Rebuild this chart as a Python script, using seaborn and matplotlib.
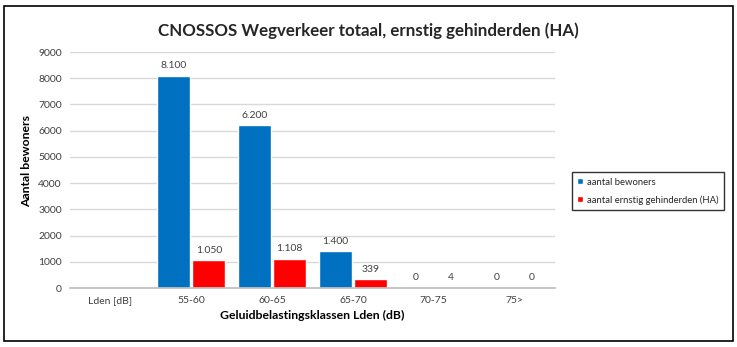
import numpy as np
import pandas as pd
import seaborn as sns
import matplotlib.pyplot as plt
from matplotlib.patches import Rectangle

# Noise exposure classes and counts per class
klassen = ["Lden [dB]", "55-60", "60-65", "65-70", "70-75", "75>"]
bewoners = [np.nan, 8100, 6200, 1400, 0, 0]
gehinderden = [np.nan, 1050, 1108, 339, 4, 0]
series = ["aantal bewoners", "aantal ernstig gehinderden (HA)"]
colors = ["#0070C0", "#FF0000"]

df = pd.DataFrame({
    "klasse": klassen * 2,
    "waarde": bewoners + gehinderden,
    "reeks": [series[0]] * len(klassen) + [series[1]] * len(klassen),
})

sns.set_theme(style="white")
plt.rcParams["font.family"] = ["Lato", "DejaVu Sans"]

fig = plt.figure(figsize=(7.37, 3.47), dpi=100)
ax = fig.add_axes([0.095, 0.170, 0.658, 0.680])

sns.barplot(data=df, x="klasse", y="waarde", hue="reeks", order=klassen,
            hue_order=series, palette=colors, width=0.87, gap=0.06,
            saturation=1, ax=ax, legend=True)

ax.set_ylim(0, 9000)
ax.set_yticks(range(0, 9001, 1000))
ax.yaxis.grid(True, color="#d9d9d9", linewidth=1)
ax.set_axisbelow(True)
for side in ["top", "right", "left"]:
    ax.spines[side].set_visible(False)
ax.spines["bottom"].set_color("#bfbfbf")
ax.tick_params(axis="both", length=0, labelsize=7.5, colors="#404040", pad=6)

ax.set_xlabel("Geluidbelastingsklassen Lden (dB)", fontsize=8.8, fontweight="bold",
              color="black", labelpad=3)
ax.set_ylabel("Aantal bewoners", fontsize=8.8, fontweight="bold", color="black",
              labelpad=2)
ax.yaxis.set_label_coords(-0.078, 0.54)

# Value labels with Dutch thousands separator
for cont in ax.containers:
    labels = []
    for v in cont.datavalues:
        if np.isnan(v):
            labels.append("")
        else:
            labels.append(f"{int(v):,}".replace(",", "."))
    ax.bar_label(cont, labels=labels, padding=4, fontsize=7.5, color="#404040")

handles, lbls = ax.get_legend_handles_labels()
ax.legend(handles, lbls, loc="center left", bbox_to_anchor=(1.025, 0.41),
          frameon=True, fancybox=False, edgecolor="black", fontsize=6.8,
          handlelength=0.6, handleheight=0.6, handletextpad=0.4,
          labelspacing=0.9, borderpad=0.6)

fig.suptitle("CNOSSOS Wegverkeer totaal, ernstig gehinderden (HA)",
             x=0.5, y=0.935, fontsize=12.2, fontweight="bold")

# Outer frame around the whole chart
fig.patches.append(Rectangle((0.006, 0.017), 0.988, 0.966, transform=fig.transFigure,
                             fill=False, edgecolor="black", linewidth=1.2))

fig.savefig("out.png", dpi=100)
